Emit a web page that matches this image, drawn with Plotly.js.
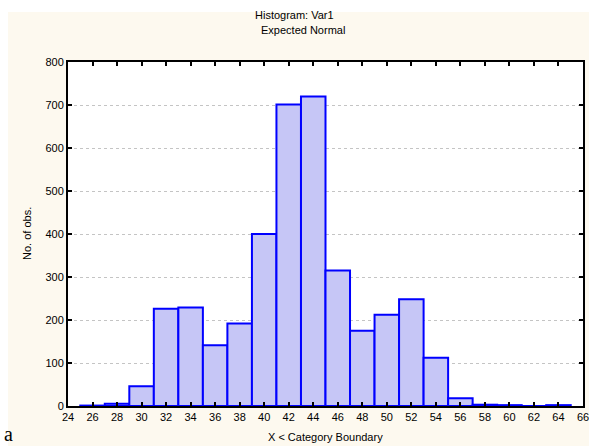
<!DOCTYPE html>
<html>
<head>
<meta charset="utf-8">
<script src="https://cdn.plot.ly/plotly-3.0.1.min.js"></script>
<style>
html,body{margin:0;padding:0;background:#ffffff;}
#chart{width:589px;height:446px;}
</style>
</head>
<body>
<div id="chart"></div>
<script>
// Bin centres (category boundaries are the odd values between them)
const binCenters = [26, 28, 30, 32, 34, 36, 38, 40, 42, 44, 46, 48, 50, 52, 54, 56, 58, 60, 62, 64];
const counts     = [1, 5, 46, 226, 229, 141, 192, 400, 701, 720, 315, 175, 212, 248, 112, 18, 3, 2, 0, 2];
const xTicks = [24,26,28,30,32,34,36,38,40,42,44,46,48,50,52,54,56,58,60,62,64,66];
const yTicks = [0,100,200,300,400,500,600,700,800];

const W = 589, H = 446, L = 68, R = 6, T = 62, B = 40;
const pw = W - L - R, ph = H - T - B;
const px = v => (v - L) / pw;          // pixel x -> paper x
const py = v => (H - B - v) / ph;      // pixel y -> paper y

const font = {family: 'Arial, "Liberation Sans", sans-serif', size: 11, color: '#000000'};

const trace = {
  type: 'bar',
  x: binCenters,
  y: counts,
  width: 2,
  marker: {color: '#C6C6F6', line: {color: '#0000FF', width: 2}},
  hoverinfo: 'x+y'
};

const layout = {
  width: W, height: H,
  margin: {l: L, r: R, t: T, b: B, pad: 0},
  paper_bgcolor: '#FDF9EF',
  plot_bgcolor: '#FFFFFF',
  showlegend: false,
  font: font,
  bargap: 0,
  xaxis: {
    range: [24, 66], tickvals: xTicks, ticktext: xTicks.map(String),
    ticks: 'inside', ticklen: 4, tickwidth: 2, tickcolor: '#000',
    showline: true, linecolor: '#000', linewidth: 2, mirror: 'ticks',
    showgrid: false, zeroline: false, tickfont: font, fixedrange: true,
    ticklabeloverflow: 'allow'
  },
  yaxis: {
    range: [0, 800], tickvals: yTicks, ticktext: yTicks.map(String),
    ticks: 'inside', ticklen: 4, tickwidth: 2, tickcolor: '#000',
    showline: true, linecolor: '#000', linewidth: 2, mirror: 'ticks',
    showgrid: true, gridcolor: '#C4C4C4', gridwidth: 1, griddash: 'dot',
    zeroline: false, tickfont: font, fixedrange: true,
    ticklabeloverflow: 'allow'
  },
  shapes: [
    {type: 'rect', xref: 'paper', yref: 'paper', layer: 'below',
     x0: px(-10), x1: px(W + 10), y0: py(12), y1: py(-10),
     fillcolor: '#FFFFFF', line: {width: 0}},
    {type: 'rect', xref: 'paper', yref: 'paper', layer: 'below',
     x0: px(-10), x1: px(8), y0: py(H + 10), y1: py(-10),
     fillcolor: '#FFFFFF', line: {width: 0}}
  ],
  annotations: [
    {text: 'Histogram: Var1', xref: 'paper', yref: 'paper', x: px(294), y: py(15),
     xanchor: 'center', yanchor: 'middle', showarrow: false, font: font},
    {text: 'Expected Normal', xref: 'paper', yref: 'paper', x: px(303), y: py(30),
     xanchor: 'center', yanchor: 'middle', showarrow: false, font: font},
    {text: 'X < Category Boundary', xref: 'paper', yref: 'paper', x: px(325), y: py(437),
     xanchor: 'center', yanchor: 'middle', showarrow: false, font: font},
    {text: 'No. of obs.', xref: 'paper', yref: 'paper', x: px(27), y: py(234),
     xanchor: 'center', yanchor: 'middle', textangle: -90, showarrow: false, font: font},
    {text: 'a', xref: 'paper', yref: 'paper', x: px(3), y: py(434),
     xanchor: 'left', yanchor: 'middle', showarrow: false, borderpad: 0,
     font: {family: '"Liberation Serif", "Times New Roman", serif', size: 20, color: '#000'}}
  ]
};

Plotly.newPlot('chart', [trace], layout, {displayModeBar: false, staticPlot: true});
</script>
</body>
</html>
